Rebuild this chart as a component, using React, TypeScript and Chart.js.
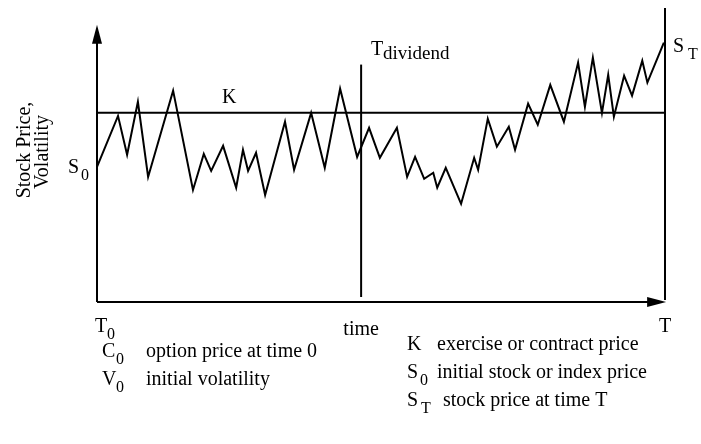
import React, { useEffect, useRef } from "react";
import { Chart, registerables } from "chart.js";

Chart.register(...registerables);

// time axis (0 = T0, 100 = T)
const timePoints = [0, 3.7, 5.3, 7.2, 9.0, 13.4, 16.9, 18.8, 20.1, 22.2, 24.5, 25.7, 26.6, 28.0, 29.6, 33.1, 34.7, 37.7, 40.1, 42.8, 45.8, 47.9, 49.8, 52.8, 54.6, 56.0, 57.6, 59.2, 59.9, 61.4, 64.1, 66.4, 67.1, 68.8, 70.4, 72.5, 73.6, 75.9, 77.6, 79.8, 82.2, 84.7, 85.9, 87.3, 88.9, 90.0, 91.0, 92.8, 94.2, 96.0, 96.9, 99.8];
const stockPrice = [48.7, 67.1, 53.1, 72.2, 45.1, 76.2, 40.4, 53.4, 47.3, 56.3, 41.2, 54.9, 47.3, 53.8, 38.6, 65.0, 47.7, 68.2, 48.4, 76.9, 52.3, 62.8, 52.0, 62.8, 45.1, 52.3, 44.4, 46.6, 41.2, 48.4, 35.4, 52.0, 47.7, 66.1, 56.0, 63.2, 54.9, 71.5, 63.9, 78.3, 65.0, 86.3, 70.4, 88.1, 68.2, 81.9, 66.8, 81.6, 74.4, 87.0, 79.1, 93.5];

const strikePrice = 68.2; // K
const dividendTime = [46.5, 46.5];
const dividendSpan = [1.8, 85.6];
const maturityTime = [100, 100];
const maturitySpan = [0.7, 106];
const yAxisTop = 100;
const xAxisEnd = 100.2;

const legendLeft = [
  ["C", "0", "option price at time 0"],
  ["V", "0", "initial volatility"],
];
const legendRight = [
  ["K", "", "exercise or contract price"],
  ["S", "0", "initial stock or index price"],
  ["S", "T", "stock price at time T"],
];

const FONT = "'Liberation Serif', 'Times New Roman', serif";

function sub(ctx: CanvasRenderingContext2D, main: string, s: string, x: number, y: number, subDx: number, subDy: number, mainSize = 20, subSize = 16) {
  ctx.font = `${mainSize}px ${FONT}`;
  ctx.textAlign = "left";
  ctx.textBaseline = "alphabetic";
  ctx.fillText(main, x, y);
  if (s) {
    ctx.font = `${subSize}px ${FONT}`;
    ctx.fillText(s, x + subDx, y + subDy);
  }
}

const diagramPlugin = {
  id: "diagram",
  afterDatasetsDraw(chart: any) {
    const ctx: CanvasRenderingContext2D = chart.ctx;
    const xs = chart.scales.x;
    const ys = chart.scales.y;
    const x0 = xs.getPixelForValue(0);
    const y0 = ys.getPixelForValue(0);
    const yTop = ys.getPixelForValue(yAxisTop);
    const xEnd = xs.getPixelForValue(xAxisEnd);
    ctx.save();
    ctx.strokeStyle = "#000";
    ctx.fillStyle = "#000";
    ctx.lineWidth = 2;
    // axes
    ctx.beginPath();
    ctx.moveTo(x0, y0);
    ctx.lineTo(x0, yTop + 15);
    ctx.moveTo(x0, y0);
    ctx.lineTo(xEnd - 15, y0);
    ctx.stroke();
    // arrowheads
    ctx.beginPath();
    ctx.moveTo(x0, yTop);
    ctx.lineTo(x0 - 5, yTop + 19);
    ctx.lineTo(x0 + 5, yTop + 19);
    ctx.closePath();
    ctx.fill();
    ctx.beginPath();
    ctx.moveTo(xEnd, y0);
    ctx.lineTo(xEnd - 19, y0 - 5);
    ctx.lineTo(xEnd - 19, y0 + 5);
    ctx.closePath();
    ctx.fill();

    // y label (rotated)
    ctx.font = `20px ${FONT}`;
    ctx.textAlign = "center";
    ctx.textBaseline = "alphabetic";
    ctx.save();
    ctx.translate(30, 150);
    ctx.rotate(-Math.PI / 2);
    ctx.fillText("Stock Price,", 0, 0);
    ctx.restore();
    ctx.save();
    ctx.translate(48, 152);
    ctx.rotate(-Math.PI / 2);
    ctx.fillText("Volatility", 0, 0);
    ctx.restore();

    // in-plot labels
    sub(ctx, "S", "0", 68, 173, 13, 7);
    sub(ctx, "K", "", 222, 103, 0, 0);
    sub(ctx, "T", "dividend", 371, 55, 12, 4, 20, 19);
    sub(ctx, "S", "T", 673, 52, 15, 7);
    sub(ctx, "T", "0", 95, 332, 12, 7);
    ctx.font = `20px ${FONT}`;
    ctx.textAlign = "center";
    ctx.fillText("time", xs.getPixelForValue(dividendTime[0]), 335);
    sub(ctx, "T", "", 659, 332, 0, 0);

    // legend
    legendLeft.forEach((row, i) => {
      const y = 357 + i * 28;
      sub(ctx, row[0], row[1], 102, y, 14, 7);
      ctx.font = `20px ${FONT}`;
      ctx.textAlign = "left";
      ctx.fillText(row[2], 146, y);
    });
    legendRight.forEach((row, i) => {
      const y = 350 + i * 28;
      sub(ctx, row[0], row[1], 407, y, row[1] === "T" ? 14 : 13, 7);
      ctx.font = `20px ${FONT}`;
      ctx.textAlign = "left";
      ctx.fillText(row[2], row[1] === "T" ? 443 : 437, y);
    });
    ctx.restore();
  },
};

export default function App() {
  const ref = useRef<HTMLCanvasElement>(null);
  useEffect(() => {
    const pathData = timePoints.map((t, i) => ({ x: t, y: stockPrice[i] }));
    const strikeData = [
      { x: 0, y: strikePrice },
      { x: 100, y: strikePrice },
    ];
    const divData = dividendTime.map((t, i) => ({ x: t, y: dividendSpan[i] }));
    const matData = maturityTime.map((t, i) => ({ x: t, y: maturitySpan[i] }));
    const common = {
      borderColor: "#000",
      borderWidth: 2,
      pointRadius: 0,
      tension: 0,
      fill: false,
      clip: false as any,
    };
    const chart = new Chart(ref.current!, {
      type: "line",
      data: {
        datasets: [
          { ...common, label: "Stock price", data: pathData },
          { ...common, label: "K", data: strikeData },
          { ...common, label: "Dividend", data: divData },
          { ...common, label: "T", data: matData },
        ],
      },
      options: {
        responsive: false,
        animation: false,
        devicePixelRatio: 1,
        layout: { padding: { left: 97, right: 36, top: 8, bottom: 142 } },
        plugins: { legend: { display: false }, tooltip: { enabled: false } },
        scales: {
          x: { type: "linear", min: 0, max: 100, display: false },
          y: { type: "linear", min: 0, max: 106, display: false },
        },
      },
      plugins: [diagramPlugin],
    });
    return () => chart.destroy();
  }, []);
  return (
    <div style={{ position: "absolute", left: 0, top: 0, width: 701, height: 444, background: "#fff" }}>
      <canvas ref={ref} width={701} height={444} style={{ display: "block" }} />
    </div>
  );
}
